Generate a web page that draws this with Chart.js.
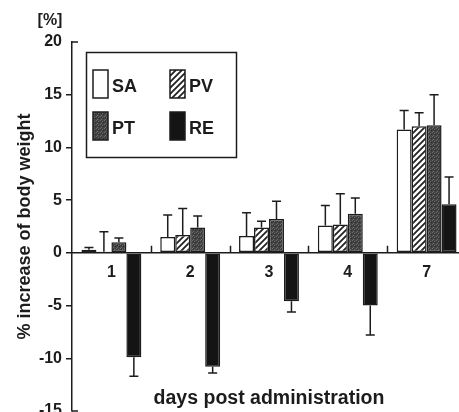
<!DOCTYPE html>
<html>
<head>
<meta charset="utf-8">
<title>Body weight change</title>
<script src="https://cdn.jsdelivr.net/npm/chart.js@4.4.1/dist/chart.umd.min.js"></script>
<style>
  html, body { margin: 0; padding: 0; background: #fff; overflow: hidden; }
  #wrap { width: 459px; height: 412px; overflow: hidden; }
  #chart { display: block; }
</style>
</head>
<body>
<div id="wrap"><canvas id="chart" width="467" height="412"></canvas></div>
<script>
var days = ['1', '2', '3', '4', '7'];
var seriesNames = ['SA', 'PV', 'PT', 'RE'];

// mean % change and SD per group
var saValues = [0.3, 1.5, 1.6, 2.6, 11.7];
var saErrors = [0.2, 2.1, 2.2, 1.9, 1.8];
var pvValues = [0.1, 1.7, 2.4, 2.7, 12.0];
var pvErrors = [1.9, 2.5, 0.6, 2.9, 1.3];
var ptValues = [1.0, 2.4, 3.2, 3.7, 12.1];
var ptErrors = [0.4, 1.1, 1.7, 1.5, 2.9];
var reValues = [-9.9, -10.8, -4.6, -5.0, 4.6];
var reErrors = [1.8, 0.6, 1.0, 2.8, 2.6];

var yTicks = [-15, -10, -5, 0, 5, 10, 15, 20];

var INK = '#1c1c1c';
var FONT = "'Liberation Sans', Arial, sans-serif";

function hatchPattern() {
    var c = document.createElement('canvas');
    c.width = 6; c.height = 6;
    var g = c.getContext('2d');
    g.fillStyle = '#fff';
    g.fillRect(0, 0, 6, 6);
    g.strokeStyle = '#222';
    g.lineWidth = 1.8;
    g.beginPath();
    g.moveTo(-3, 3); g.lineTo(3, -3);
    g.moveTo(0, 6); g.lineTo(6, 0);
    g.moveTo(3, 9); g.lineTo(9, 3);
    g.stroke();
    return g.createPattern(c, 'repeat');
}

function stipplePattern() {
    var c = document.createElement('canvas');
    c.width = 4; c.height = 4;
    var g = c.getContext('2d');
    g.fillStyle = '#444';
    g.fillRect(0, 0, 4, 4);
    g.fillStyle = '#6a6a6a';
    g.fillRect(0, 0, 1, 1);
    g.fillRect(2, 1, 1, 1);
    g.fillRect(1, 3, 1, 1);
    g.fillStyle = '#2c2c2c';
    g.fillRect(3, 2, 1, 1);
    g.fillRect(1, 1, 1, 1);
    return g.createPattern(c, 'repeat');
}

var fills = ['#ffffff', hatchPattern(), stipplePattern(), '#141414'];
var valueSets = [saValues, pvValues, ptValues, reValues];
var errorSets = [saErrors, pvErrors, ptErrors, reErrors];

var datasets = seriesNames.map(function(name, i) {
    return {
        label: name,
        data: valueSets[i],
        errors: errorSets[i],
        backgroundColor: fills[i],
        borderColor: INK,
        borderWidth: 1.5,
        borderSkipped: false,
        barPercentage: 1.0,
        categoryPercentage: 0.76
    };
});

// SD whiskers: up from positive bars, down from negative ones
var errorBars = {
    id: 'errorBars',
    afterDatasetsDraw: function(chart) {
        var ctx = chart.ctx;
        var y = chart.scales.y;
        ctx.save();
        ctx.strokeStyle = INK;
        ctx.lineWidth = 1.5;
        chart.data.datasets.forEach(function(ds, i) {
            var meta = chart.getDatasetMeta(i);
            meta.data.forEach(function(bar, j) {
                var v = ds.data[j];
                var dir = v < 0 ? -1 : 1;
                var yEnd = y.getPixelForValue(v + dir * ds.errors[j]);
                ctx.beginPath();
                ctx.moveTo(bar.x, bar.y);
                ctx.lineTo(bar.x, yEnd);
                ctx.moveTo(bar.x - 4.5, yEnd);
                ctx.lineTo(bar.x + 4.5, yEnd);
                ctx.stroke();
            });
        });
        ctx.restore();
    }
};

var decorations = {
    id: 'decorations',
    afterDraw: function(chart) {
        var ctx = chart.ctx;
        var x = chart.scales.x;
        var y = chart.scales.y;
        var area = chart.chartArea;
        ctx.save();
        ctx.strokeStyle = INK;
        ctx.lineWidth = 1.5;

        // end caps of the value axis
        ctx.beginPath();
        [yTicks[0], yTicks[yTicks.length - 1]].forEach(function(v) {
            var py = y.getPixelForValue(v);
            ctx.moveTo(area.left, py);
            ctx.lineTo(area.left + 6, py);
        });
        // small marks between day groups
        var zero = y.getPixelForValue(0);
        for (var i = 1; i < days.length; i++) {
            var px = Math.round((x.getPixelForValue(i - 1) + x.getPixelForValue(i)) / 2) + 0.5;
            ctx.moveTo(px, zero);
            ctx.lineTo(px, zero - 7);
        }
        ctx.stroke();

        // legend box
        ctx.strokeRect(86.5, 52.5, 150, 105);
        var spots = [[93, 70], [170, 70], [93, 112], [170, 112]];
        ctx.font = 'bold 18px ' + FONT;
        ctx.textBaseline = 'middle';
        ctx.textAlign = 'left';
        chart.data.datasets.forEach(function(ds, i) {
            var s = spots[i];
            ctx.fillStyle = ds.backgroundColor;
            ctx.fillRect(s[0], s[1], 15, 28);
            ctx.strokeRect(s[0], s[1], 15, 28);
            ctx.fillStyle = INK;
            ctx.fillText(ds.label, s[0] + 19, s[1] + 17);
        });

        // unit label and category axis title
        ctx.font = 'bold 16px ' + FONT;
        ctx.textAlign = 'center';
        ctx.fillText('[%]', 50, 21);
        ctx.font = 'bold 19.5px ' + FONT;
        ctx.fillText('days post administration', (area.left + area.right) / 2, 399);
        ctx.restore();
    }
};

new Chart(document.getElementById('chart'), {
    type: 'bar',
    data: {
        labels: days,
        datasets: datasets
    },
    options: {
        responsive: false,
        devicePixelRatio: 1,
        animation: false,
        layout: { padding: { top: 42, bottom: 1, left: 0, right: 1 } },
        plugins: {
            legend: { display: false },
            tooltip: { enabled: false }
        },
        scales: {
            x: {
                position: { y: 0 },
                grid: { display: false, drawTicks: false },
                border: { color: INK, width: 1.5 },
                ticks: {
                    color: INK,
                    padding: 10,
                    font: { family: FONT, size: 16, weight: 'bold' }
                }
            },
            y: {
                min: -15,
                max: 20,
                afterBuildTicks: function(scale) {
                    scale.ticks = yTicks.map(function(v) { return { value: v }; });
                },
                afterFit: function(scale) {
                    scale.width = 72;
                    scale.paddingTop = 0;
                    scale.paddingBottom = 0;
                },
                grid: {
                    drawOnChartArea: false,
                    tickLength: 6,
                    lineWidth: 1.5,
                    tickColor: function(c) {
                        return (c.tick && (c.tick.value === 20 || c.tick.value === -15)) ? 'rgba(0,0,0,0)' : INK;
                    }
                },
                border: { color: INK, width: 1.5 },
                ticks: {
                    color: INK,
                    padding: 4,
                    font: { family: FONT, size: 16, weight: 'bold' }
                },
                title: {
                    display: true,
                    text: '% increase of body weight',
                    color: INK,
                    padding: { top: 14, bottom: 0 },
                    font: { family: FONT, size: 18, weight: 'bold' }
                }
            }
        }
    },
    plugins: [errorBars, decorations]
});
</script>
</body>
</html>
